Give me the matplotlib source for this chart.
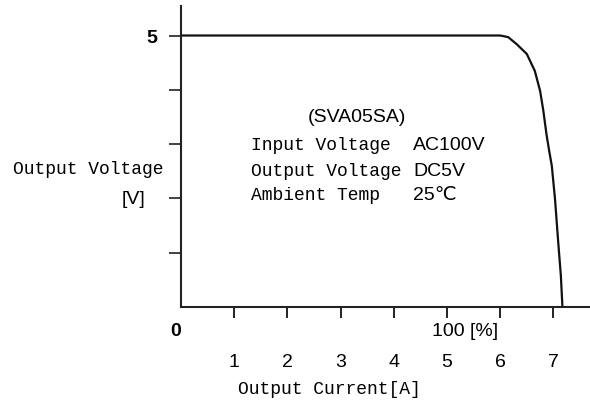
import matplotlib
matplotlib.use("Agg")
import matplotlib.pyplot as plt

# curve: output current [A] vs output voltage [V]
current = [0, 6.0, 6.15, 6.31, 6.50, 6.65, 6.75, 6.81, 6.87, 6.92, 6.97, 7.03, 7.09, 7.14, 7.17]
voltage = [5, 5.0, 4.97, 4.84, 4.66, 4.35, 3.98, 3.62, 3.18, 2.88, 2.60, 1.99, 1.20, 0.58, 0.0]

x_ticks = [1, 2, 3, 4, 5, 6, 7]
y_ticks = [1, 2, 3, 4, 5]

info_keys = ["Input Voltage", "Output Voltage", "Ambient Temp"]
info_vals = ["AC100V", "DC5V", "25\u2103"]

mono = ["Liberation Mono", "DejaVu Sans Mono"]
sans = ["Liberation Sans", "DejaVu Sans"]

fig = plt.figure(figsize=(5.9, 4.1), dpi=100)
ax = fig.add_axes([181 / 590, 1 - 308 / 410, 1 - 181 / 590, 301 / 410])

ax.plot(current, voltage, color="#111111", lw=1.6)
ax.set_xlim(0, 409 / 53.2)
ax.set_ylim(0, 301 / 54.3)

for s in ["top", "right"]:
    ax.spines[s].set_visible(False)
for s in ["left", "bottom"]:
    ax.spines[s].set_linewidth(1.5)
    ax.spines[s].set_color("#222222")

ax.set_xticks(x_ticks)
ax.set_xticklabels([str(v) for v in x_ticks], family=sans, fontsize=14)
ax.tick_params(axis="x", length=8, width=1.4, pad=25, color="#222222")
ax.set_yticks(y_ticks)
ax.set_yticklabels(["" if v != 5 else "5" for v in y_ticks], family=sans,
                   fontsize=14, fontweight="bold")
ax.tick_params(axis="y", length=9, width=1.2, pad=8, color="#222222")

# extra axis texts
ax.annotate("0", xy=(0, 0), xycoords=("data", "axes fraction"),
            xytext=(-5, -24), textcoords="offset pixels", ha="center",
            va="center", family=sans, fontsize=14, fontweight="bold")
ax.annotate("100 [%]", xy=(5, 0), xycoords=("data", "axes fraction"),
            xytext=(-15, -24), textcoords="offset pixels", ha="left",
            va="center", family=sans, fontsize=14)
fig.text(329 / 590, 1 - 390 / 410, "Output Current[A]", ha="center",
         va="center", family=mono, fontsize=13)
fig.text(88 / 590, 1 - 170 / 410, "Output Voltage", ha="center",
         va="center", family=mono, fontsize=13)
fig.text(145 / 590, 1 - 200 / 410, "[V]", ha="right", va="center",
         family=sans, fontsize=14)

# spec box
ax.text(3.3, (308 - 117) / 54.3, "(SVA05SA)", ha="center", va="center",
        family=sans, fontsize=14)
for i, (k, v) in enumerate(zip(info_keys, info_vals)):
    yv = (308 - 146 - 25 * i) / 54.3
    ax.text((251 - 181) / 53.2, yv, k, ha="left", va="center",
            family=mono, fontsize=13)
    ax.text((413 - 181) / 53.2, yv, v, ha="left", va="center",
            family=sans, fontsize=14)

fig.savefig("out.png", dpi=100)
